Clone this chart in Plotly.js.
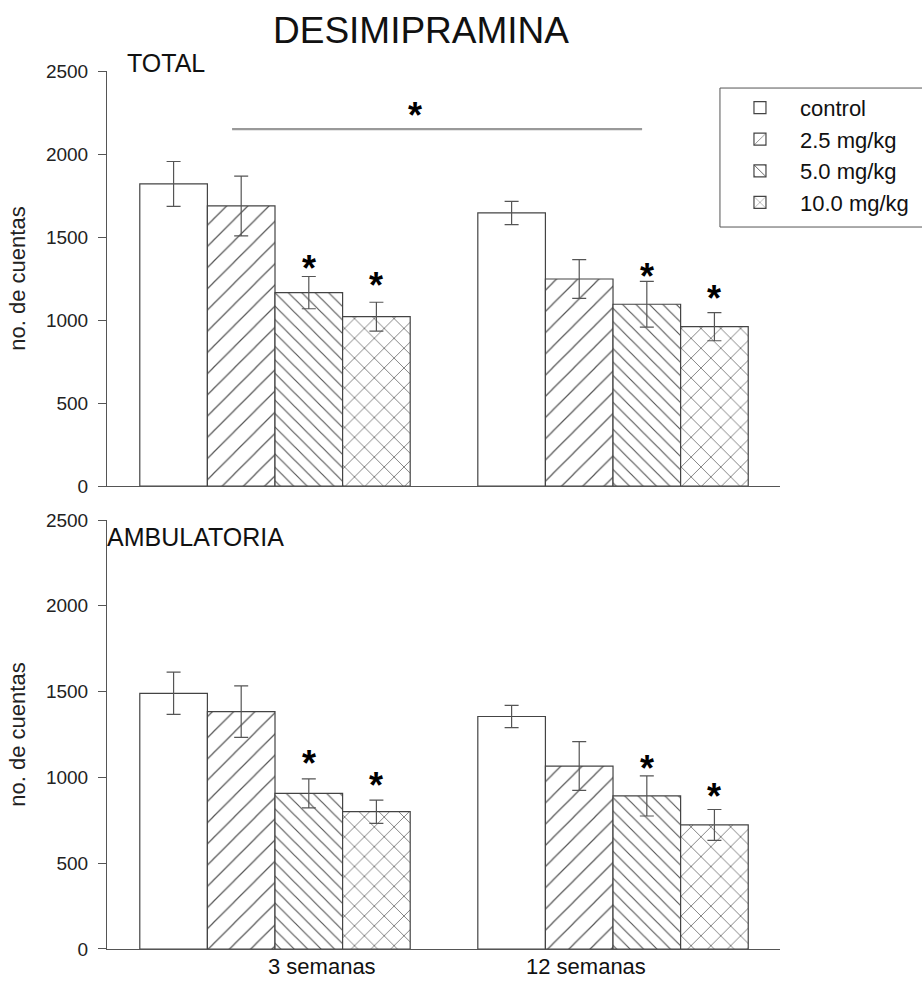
<!DOCTYPE html>
<html>
<head>
<meta charset="utf-8">
<script src="https://cdn.plot.ly/plotly-3.0.1.min.js"></script>
<style>
  html, body { margin: 0; padding: 0; background: #fff; }
  #chart { width: 922px; height: 983px; }
</style>
</head>
<body>
<div id="chart"></div>
<script>
// Treatment duration (x categories) and dose groups (series)
const weeks = ['3 semanas', '12 semanas'];
const doses = ['control', '2.5 mg/kg', '5.0 mg/kg', '10.0 mg/kg'];

// TOTAL activity: mean counts per dose, one value per duration
const totalControl = [1820, 1645];
const total25 = [1687, 1247];
const total50 = [1165, 1095];
const total100 = [1020, 960];
// TOTAL: standard errors
const totalControlErr = [135, 70];
const total25Err = [180, 117];
const total50Err = [97, 138];
const total100Err = [87, 85];

// AMBULATORIA activity: mean counts per dose
const ambControl = [1490, 1355];
const amb25 = [1383, 1066];
const amb50 = [907, 892];
const amb100 = [800, 723];
// AMBULATORIA: standard errors
const ambControlErr = [123, 65];
const amb25Err = [150, 142];
const amb50Err = [85, 117];
const amb100Err = [68, 90];

// Significance marks (count level of each asterisk) over the 5.0 and 10.0 mg/kg bars
const totalStar50 = [1351, 1307];
const totalStar100 = [1253, 1170];
const ambStar50 = [1121, 1092];
const ambStar100 = [995, 927];

// Hatch styles, one per dose
const hatch = [
  null,
  {shape: '/', size: 15, solidity: 0.08},
  {shape: '\\', size: 9.5, solidity: 0.12},
  {shape: 'x', size: 14, solidity: 0.1}
];

const FONT = 'Liberation Sans, Arial, Helvetica, sans-serif';
const EDGE = '#444';

function bar(i, y, err, xa, ya, showlegend) {
  const marker = {color: 'white', line: {color: EDGE, width: 1.2}};
  if (hatch[i]) {
    marker.pattern = Object.assign({fgcolor: '#555', bgcolor: 'white', fillmode: 'replace'}, hatch[i]);
  }
  return {
    type: 'bar', name: doses[i], x: weeks, y: y,
    xaxis: xa, yaxis: ya, showlegend: showlegend, legendgroup: doses[i],
    marker: marker,
    error_y: {type: 'data', array: err, visible: true, color: '#555', thickness: 1.2, width: 7},
    hoverinfo: 'skip'
  };
}

const totals = [totalControl, total25, total50, total100];
const totalErrs = [totalControlErr, total25Err, total50Err, total100Err];
const ambs = [ambControl, amb25, amb50, amb100];
const ambErrs = [ambControlErr, amb25Err, amb50Err, amb100Err];

const data = [];
for (let i = 0; i < doses.length; i++) data.push(bar(i, totals[i], totalErrs[i], 'x', 'y', true));
for (let i = 0; i < doses.length; i++) data.push(bar(i, ambs[i], ambErrs[i], 'x2', 'y2', false));

// Bar centres inside a group: 4 bars share 0.8 of a category slot
const slot = 0.8 / doses.length;
const barOffset = i => -0.4 + slot * (i + 0.5);

function stars(levels, doseIndex, xa, ya) {
  return levels.map((lv, g) => ({
    xref: xa, yref: ya, x: g + barOffset(doseIndex), y: lv,
    text: '<b>*</b>', showarrow: false, yshift: -7,
    font: {family: FONT, size: 36, color: '#000'},
    xanchor: 'center', yanchor: 'middle'
  }));
}

const annotations = [
  ...stars(totalStar50, 2, 'x', 'y'),
  ...stars(totalStar100, 3, 'x', 'y'),
  ...stars(ambStar50, 2, 'x2', 'y2'),
  ...stars(ambStar100, 3, 'x2', 'y2'),
  {xref: 'x', yref: 'y', x: 0.414, y: 2277, text: '<b>*</b>', showarrow: false, yshift: -7,
   font: {family: FONT, size: 36, color: '#000'}, xanchor: 'center', yanchor: 'middle'},
  {xref: 'x domain', yref: 'y domain', x: 0.027, y: 1.019, text: 'TOTAL', showarrow: false,
   xanchor: 'left', yanchor: 'middle', font: {family: FONT, size: 25, color: '#111'}},
  {xref: 'x2 domain', yref: 'y2 domain', x: -0.003, y: 0.960, text: 'AMBULATORIA', showarrow: false,
   xanchor: 'left', yanchor: 'middle', font: {family: FONT, size: 25, color: '#111'}},
  {xref: 'x2', yref: 'paper', x: 0.139, y: -0.0194, text: weeks[0], showarrow: false,
   xanchor: 'center', yanchor: 'middle', font: {family: FONT, size: 22, color: '#111'}},
  {xref: 'x2', yref: 'paper', x: 0.92, y: -0.0194, text: weeks[1], showarrow: false,
   xanchor: 'center', yanchor: 'middle', font: {family: FONT, size: 22, color: '#111'}}
];

const xBase = {
  type: 'category', range: [-0.497, 1.494], showline: true, linecolor: '#555', linewidth: 1,
  ticks: '', showticklabels: false, showgrid: false, zeroline: false, fixedrange: true
};
const yBase = {
  range: [0, 2500], tick0: 0, dtick: 500, ticks: 'outside', ticklen: 8, tickwidth: 1,
  tickcolor: '#555', showline: true, linecolor: '#555', linewidth: 1,
  showgrid: false, zeroline: false, fixedrange: true,
  tickfont: {family: FONT, size: 19, color: '#222'}, ticklabelstandoff: 6,
  title: {text: 'no. de cuentas', font: {family: FONT, size: 22, color: '#222'}, standoff: 14}
};

const layout = {
  width: 922, height: 983,
  margin: {l: 107, r: 142, t: 71, b: 34, autoexpand: false},
  paper_bgcolor: 'white', plot_bgcolor: 'white',
  font: {family: FONT, color: '#111'},
  barmode: 'group', bargap: 0.2, bargroupgap: 0,
  title: {text: 'DESIMIPRAMINA', font: {family: FONT, size: 37, color: '#111'},
          xref: 'paper', x: 0.4666, xanchor: 'center', yref: 'container', y: 0.969, yanchor: 'middle'},
  xaxis: Object.assign({}, xBase, {domain: [0, 1], anchor: 'y'}),
  yaxis: Object.assign({}, yBase, {domain: [0.5273, 1], anchor: 'x'}),
  xaxis2: Object.assign({}, xBase, {domain: [0, 1], anchor: 'y2'}),
  yaxis2: Object.assign({}, yBase, {domain: [0, 0.4886], anchor: 'x2'}),
  showlegend: true,
  legend: {
    x: 0.9108, xanchor: 'left', y: 0.904, yanchor: 'middle',
    bgcolor: 'rgba(0,0,0,0)', borderwidth: 0, itemwidth: 70,
    font: {family: FONT, size: 22, color: '#111'}, traceorder: 'normal',
    itemclick: false, itemdoubleclick: false
  },
  shapes: [
    // legend frame
    {type: 'rect', xref: 'paper', yref: 'paper', x0: 0.9108, x1: 1.3, y0: 0.8223, y1: 0.9806,
     line: {color: '#555', width: 1}, fillcolor: 'rgba(0,0,0,0)'},
    // overall effect bracket
    {type: 'line', xref: 'x', yref: 'y', x0: -0.127, x1: 1.086, y0: 2150, y1: 2150,
     line: {color: '#999', width: 2.2}}
  ],
  annotations: annotations
};

Plotly.newPlot('chart', data, layout, {displayModeBar: false, staticPlot: true});
</script>
</body>
</html>
